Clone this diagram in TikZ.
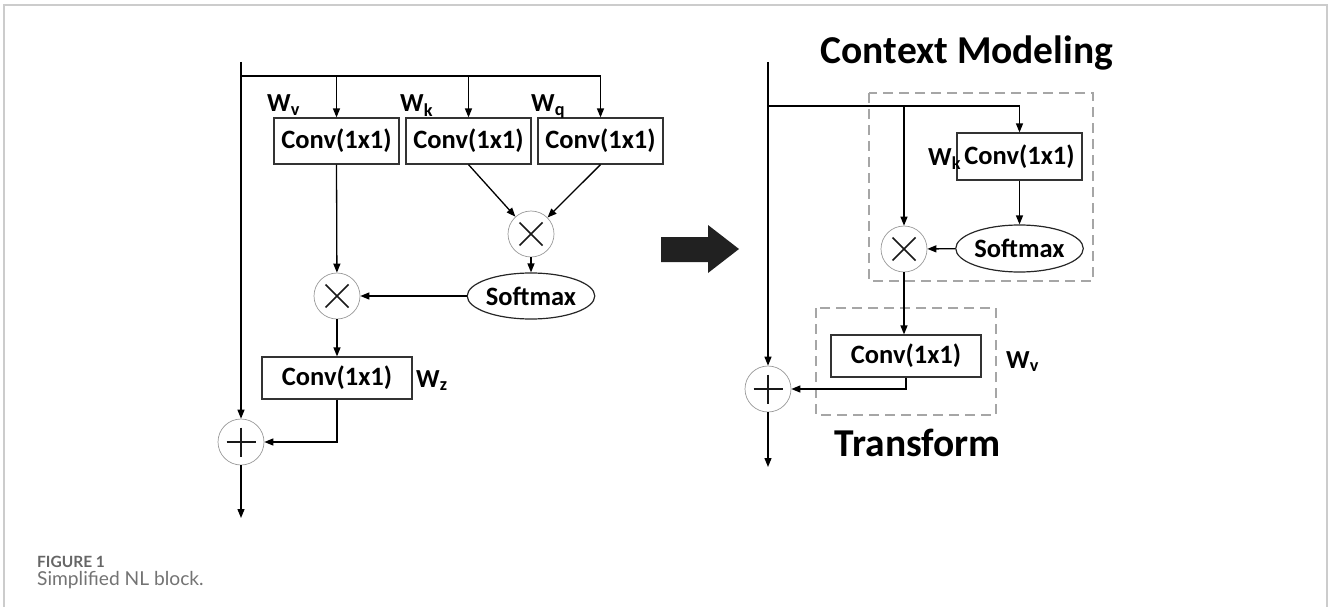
\documentclass[tikz,border=0pt]{standalone}
\usepackage{fontspec}
\setmainfont{Carlito}
\newfontfamily\capfont{Lato}
\usetikzlibrary{arrows.meta,shapes.geometric}

\begin{document}
\begin{tikzpicture}[x=1pt,y=-1pt,
  boxfont/.style={font=\fontsize{26.5}{30}\selectfont\bfseries},
  conv/.style={draw=black!80,line width=1.2pt,minimum width=125pt,minimum height=46pt,inner sep=0pt,boxfont},
  convw/.style={conv,minimum width=150pt,minimum height=42pt},
  softbox/.style={ellipse,draw=black!85,line width=1.2pt,minimum width=125pt,minimum height=46pt,inner sep=0pt,boxfont},
  opnode/.style={circle,draw=black!40,line width=0.7pt,minimum size=46pt,inner sep=0pt},
  sym/.style={line width=1.6pt,black!90},
  flow/.style={line width=1.3pt,-{Triangle[length=9pt,width=7pt]}},
  wire/.style={line width=1.3pt},
  wlabel/.style={font=\fontsize{26}{30}\selectfont\bfseries,inner sep=0pt,anchor=base west},
  group/.style={draw=black!35,dash pattern=on 10pt off 6pt,line width=1.5pt},
  title/.style={font=\fontsize{39.5}{44}\selectfont\bfseries,inner sep=0pt}
]
\useasboundingbox (0,0) rectangle (1328,607);

% page frame
\draw[black!20,line width=1.2pt] (4,607) -- (4,5) -- (1327,5) -- (1327,607);

% ---------------- non-local block ----------------
\coordinate (lin) at (241,62);
\coordinate (lbr) at (241,76);
\node[conv] (cv) at (336.5,141) {Conv(1x1)};
\node[conv] (ck) at (468.5,141) {Conv(1x1)};
\node[conv] (cq) at (600.5,141) {Conv(1x1)};
\node[wlabel] (lv) at (267,112) {W\textsubscript{v}};
\node[wlabel] (lk) at (400,112) {W\textsubscript{k}};
\node[wlabel] (lq) at (531,112) {W\textsubscript{q}};
\node[opnode] (mk) at (531,234) {};
\node[softbox] (sl) at (531,296) {Softmax};
\node[opnode] (mv) at (337,296) {};
\node[convw] (cz) at (337,378) {Conv(1x1)};
\node[wlabel] (lz) at (416,387) {W\textsubscript{z}};
\node[opnode] (pl) at (241,442) {};
\coordinate (lout) at (241,518);

\draw[flow] (lin) -- (pl);
\draw[wire] (lbr) -- (cq.north |- lbr);
\draw[flow] (cv.north |- lbr) -- (cv.north);
\draw[flow] (ck.north |- lbr) -- (ck.north);
\draw[flow] (cq.north |- lbr) -- (cq.north);
\draw[flow] (ck.south) -- (mk);
\draw[flow] (cq.south) -- (mk);
\draw[flow] (mk) -- (sl);
\draw[flow] (sl) -- (mv);
\draw[flow] (cv.south) -- (mv);
\draw[flow] (mv) -- (cz);
\draw[flow] (cz.south) |- (pl);
\draw[flow] (pl) -- (lout);

% ---------------- transition arrow ----------------
\fill[black!87] (661,237) -- (708,237) -- (708,225) -- (739,249) -- (708,273) -- (708,262) -- (661,262) -- cycle;

% ---------------- simplified block ----------------
\draw[group] (869,93) rectangle (1093,281);
\draw[group] (816,308) rectangle (996,415);
\node[title] (ctx) at (967,53) {Context Modeling};
\node[title] (trf) at (918,443) {Transform};

\coordinate (rin) at (768,62);
\coordinate (rbr) at (768,106);
\node[conv,minimum height=47pt] (rk) at (1019.5,156.5) {Conv(1x1)};
\node[softbox,minimum height=47pt] (rs) at (1019.5,248.5) {Softmax};
\node[opnode] (rm) at (904,249) {};
\node[wlabel] (rlk) at (928,165) {W\textsubscript{k}};
\node[convw] (rv) at (906,356) {Conv(1x1)};
\node[wlabel] (rlv) at (1006,368) {W\textsubscript{v}};
\node[opnode] (rp) at (768,389) {};
\coordinate (rout) at (768,467);

\draw[flow] (rin) -- (rp);
\draw[wire] (rbr) -- (rk.north |- rbr);
\draw[flow] (rk.north |- rbr) -- (rk.north);
\draw[flow] (rm |- rbr) -- (rm);
\draw[flow] (rk) -- (rs);
\draw[flow] (rs) -- (rm);
\draw[flow] (rm) -- (rm |- rv.north);
\draw[flow] (rv.south) |- (rp);
\draw[flow] (rp) -- (rout);

% operator glyphs
\foreach \n in {mk,mv,rm}{
  \draw[sym] ([shift={(-11.5,-11.5)}]\n.center) -- ([shift={(11.5,11.5)}]\n.center);
  \draw[sym] ([shift={(-11.5,11.5)}]\n.center) -- ([shift={(11.5,-11.5)}]\n.center);
}
\foreach \n in {pl,rp}{
  \draw[sym,line width=2pt] ([shift={(-14.5,0)}]\n.center) -- ([shift={(14.5,0)}]\n.center);
  \draw[sym,line width=2pt] ([shift={(0,-14.5)}]\n.center) -- ([shift={(0,14.5)}]\n.center);
}

% caption
\node[anchor=base west,inner sep=0pt,text=black!60,font=\capfont\fontsize{15.5}{18}\selectfont\bfseries] (fig) at (37,567) {FIGURE 1};
\node[anchor=base west,inner sep=0pt,text=black!55,font=\capfont\fontsize{19.2}{22}\selectfont] (cap) at (37,585) {Simplified NL block.};
\end{tikzpicture}
\end{document}
